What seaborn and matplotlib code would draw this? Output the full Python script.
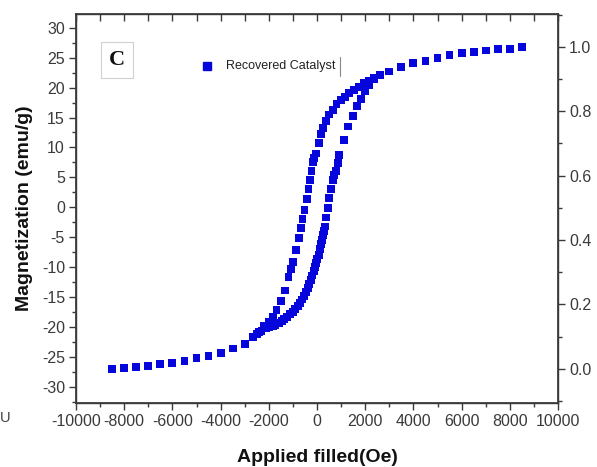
import matplotlib
matplotlib.use("Agg")
import matplotlib.pyplot as plt
import seaborn as sns
import pandas as pd
from matplotlib.lines import Line2D
from matplotlib.ticker import MultipleLocator

# ---- data ----
tail_pos_H = [8500, 8000, 7500, 7000, 6500, 6000, 5500, 5000, 4500, 4000, 3500, 3000]
tail_pos_M = [26.8, 26.5, 26.4, 26.2, 26.0, 25.8, 25.4, 25.0, 24.5, 24.1, 23.4, 22.7]

desc_H = [2600, 2380, 2170, 1960, 1750, 1550, 1340, 1160, 1000, 810, 650, 510, 370, 260, 170, 70,
          -40, -120, -180, -230, -280, -350, -430, -520, -600, -670, -740, -870, -980, -1080,
          -1180, -1330, -1490, -1680, -1840, -2010, -2190, -2400, -2650]
desc_M = [22.1, 21.6, 21.2, 20.7, 20.1, 19.6, 19.1, 18.5, 17.9, 17.2, 16.3, 15.5, 14.4, 13.3, 12.2, 10.8,
          9.0, 8.2, 7.5, 6.1, 4.6, 3.0, 1.4, -0.4, -1.9, -3.4, -5.1, -7.2, -9.1, -10.3,
          -11.6, -13.9, -15.6, -17.1, -18.3, -19.2, -19.9, -20.8, -21.7]

tail_neg_H = [-3000, -3500, -4000, -4500, -5000, -5500, -6000, -6500, -7000, -7500, -8000, -8500]
tail_neg_M = [-22.9, -23.6, -24.4, -24.8, -25.2, -25.7, -26.0, -26.2, -26.5, -26.7, -26.9, -27.0]

asc_H = [-2500, -2300, -2117, -1980, -1843, -1720, -1594, -1470, -1357, -1240, -1120, -1010, -900, -800,
         -706, -610, -527, -460, -390, -320, -249, -190, -141, -90, -41, 10, 66, 120, 166, 200, 235,
         290, 344, 373, 440, 510, 581, 649, 720, 789, 860, 925, 1133, 1299, 1478, 1643, 1838,
         2004, 2170, 2380]
asc_M = [-21.2, -20.7, -20.2, -20.0, -19.8, -19.6, -19.3, -19.0, -18.7, -18.3, -17.9, -17.5, -17.0, -16.5,
         -16.0, -15.4, -14.8, -14.2, -13.5, -12.8, -12.1, -11.4, -10.7, -10.0, -9.3, -8.6, -7.9, -7.0,
         -6.2, -5.4, -4.6, -3.9, -3.2, -1.7, -0.1, 1.6, 3.1, 4.6, 5.4, 6.1, 7.4, 8.8, 11.2, 13.5, 15.3,
         16.9, 18.1, 19.4, 20.4, 21.4]

x_ticks = [-10000, -8000, -6000, -4000, -2000, 0, 2000, 4000, 6000, 8000, 10000]
y_ticks = [-30, -25, -20, -15, -10, -5, 0, 5, 10, 15, 20, 25, 30]
y2_ticks = [0.0, 0.2, 0.4, 0.6, 0.8, 1.0]

series_label = "Recovered Catalyst"
panel_letter = "C"
x_label = "Applied filled(Oe)"
y_label = "Magnetization (emu/g)"

H = tail_pos_H + desc_H + tail_neg_H + asc_H
M = tail_pos_M + desc_M + tail_neg_M + asc_M
df = pd.DataFrame({"H": H, "M": M})

# ---- figure ----
sns.set_theme(style="white")
plt.rcParams['font.family'] = ['Liberation Sans', 'DejaVu Sans']

W, Hh = 597, 467
fig = plt.figure(figsize=(W / 100, Hh / 100), dpi=100)
ax = fig.add_axes([76 / W, 1 - 403 / Hh, (558 - 76) / W, (403 - 14) / Hh])

blue = "#0606dc"
sns.scatterplot(data=df, x="H", y="M", ax=ax, marker="s", s=32, color=blue,
                edgecolor="none", linewidth=0, legend=False, zorder=3)

ax.set_xlim(-10000, 10000)
ax.set_ylim(-32.7, 32.3)
ax.set_xticks(x_ticks)
ax.set_xticklabels([str(v) for v in x_ticks])
ax.set_yticks(y_ticks)
ax.set_yticklabels([str(v) for v in y_ticks])
ax.xaxis.set_minor_locator(MultipleLocator(1000))
ax.yaxis.set_minor_locator(MultipleLocator(2.5))

tick_col = "#3a3a3a"
spine_col = "#3a3a3a"
for s in ax.spines.values():
    s.set_color(spine_col)
    s.set_linewidth(1.0)

ax.tick_params(axis='both', which='both', colors=spine_col, labelcolor=tick_col, labelsize=11.5)
ax.tick_params(axis='x', which='major', direction='out', length=5, width=1, bottom=True, top=True, pad=3)
ax.tick_params(axis='x', which='minor', direction='out', length=3, width=1, bottom=True, top=True)
ax.tick_params(axis='y', which='major', direction='out', length=5, width=1, left=True, pad=3)
ax.tick_params(axis='y', which='minor', direction='out', length=3, width=1, left=True)

# top ticks point inward
for t in ax.xaxis.get_major_ticks() + ax.xaxis.get_minor_ticks():
    t.tick2line.set_marker(3)  # TICKDOWN
    t.tick2line.set_markersize(5)

ax.set_xlabel(x_label, fontsize=14, fontweight='bold', color='#111111', labelpad=14)
ax.set_ylabel(y_label, fontsize=14, fontweight='bold', color='#111111', labelpad=6)

# right axis (normalised)
ax2 = ax.twinx()
ax2.set_ylim(-0.106, 1.102)
ax2.set_yticks(y2_ticks)
ax2.set_yticklabels([f"{v:.1f}" for v in y2_ticks])
ax2.yaxis.set_minor_locator(MultipleLocator(0.1))
ax2.tick_params(axis='y', which='major', direction='out', length=5, width=1, right=True,
                colors=spine_col, labelcolor=tick_col, labelsize=11.5, pad=3)
ax2.tick_params(axis='y', which='minor', direction='out', length=3, width=1, right=True, colors=spine_col)
for s in ax2.spines.values():
    s.set_color(spine_col)
ax2.grid(False)
ax.grid(False)

# panel letter box
ax.text((117 - 76) / (558 - 76), (403 - 60) / (403 - 14), panel_letter, transform=ax.transAxes,
        ha='center', va='center', fontsize=16, fontweight='bold',
        family=['Liberation Serif', 'DejaVu Serif'], color='#111111',
        bbox=dict(boxstyle='square,pad=0.35', fc='white', ec='#d0d0d0', lw=0.8))

# legend entry
ax.plot([(207 - 76) / (558 - 76)], [(403 - 66) / (403 - 14)], marker='s', ms=6, color=blue,
        ls='none', transform=ax.transAxes)
ax.text((226 - 76) / (558 - 76), (403 - 66) / (403 - 14), series_label, transform=ax.transAxes,
        ha='left', va='center', fontsize=9, color='#222222')
fig.add_artist(Line2D([340 / W, 340 / W], [1 - 57 / Hh, 1 - 76 / Hh], color='#888888', lw=0.8))

# stray glyph at left edge
fig.text(0 / W, 1 - 418 / Hh, "U", ha='left', va='center', fontsize=10.5, color='#444444')

fig.savefig("out.png", dpi=100)
